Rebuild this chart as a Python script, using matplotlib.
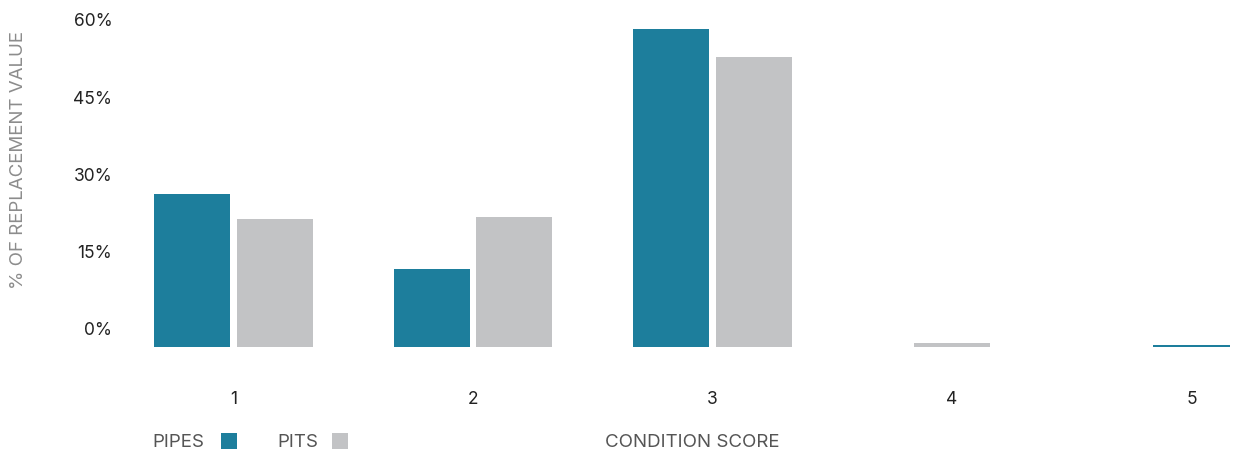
import matplotlib
matplotlib.use("Agg")
import matplotlib.pyplot as plt
import matplotlib.transforms as mtransforms
from matplotlib.patches import Rectangle
import numpy as np

# Share of replacement value by condition score
scores = ["1", "2", "3", "4", "5"]
pipes = [29.7, 15.1, 61.7, 0.0, 0.4]
pits = [24.8, 25.2, 56.3, 0.8, 0.0]
y_ticks = [0, 15, 30, 45, 60]
y_tick_labels = ["0%", "15%", "30%", "45%", "60%"]

PIPE_COLOR = "#1d7e9c"
PIT_COLOR = "#c2c3c5"

plt.rcParams["font.family"] = ["Inter", "DejaVu Sans"]

W, H, DPI = 1233, 452, 100
fig = plt.figure(figsize=(W / DPI, H / DPI), dpi=DPI)

# axes placement in pixels
unit = 239.5
center0 = 233.5
left_px = center0 - 0.5 * unit
right_px = W
bottom_px = 348.0
top_px = 13.0
ax = fig.add_axes([left_px / W, (H - bottom_px) / H,
                   (right_px - left_px) / W, (bottom_px - top_px) / H])

x = np.arange(len(scores), dtype=float)
bar_w = 0.318
offset = 0.172

# empty series are skipped, so a lone bar sits on its category centre
pipes_arr = np.array(pipes)
pits_arr = np.array(pits)
both = (pipes_arr > 0) & (pits_arr > 0)
pipe_x = np.where(both, x - offset, x)
pit_x = np.where(both, x + offset, x)
ax.bar(pipe_x[pipes_arr > 0], pipes_arr[pipes_arr > 0], width=bar_w,
       color=PIPE_COLOR, linewidth=0)
ax.bar(pit_x[pits_arr > 0], pits_arr[pits_arr > 0], width=bar_w,
       color=PIT_COLOR, linewidth=0)

ax.set_xlim(-0.5, (right_px - center0) / unit)
ax.set_ylim(0, 65)

for s in ax.spines.values():
    s.set_visible(False)

ax.set_xticks(x)
ax.set_xticklabels(scores)
ax.set_yticks(y_ticks)
ax.set_yticklabels(y_tick_labels)
ax.tick_params(axis="x", length=0, pad=31, labelsize=12.5, labelcolor="#222222")
ax.tick_params(axis="y", length=0, pad=1, labelsize=12.5, labelcolor="#222222")

# y labels sit slightly above their value
shift = mtransforms.ScaledTranslation(0, 17 / DPI, fig.dpi_scale_trans)
for lab in ax.get_yticklabels():
    lab.set_transform(lab.get_transform() + shift)
    lab.set_verticalalignment("center")

TITLE_SIZE = 13.5

# axis titles
fig.text(19 / W, 1 - 160 / H, "% OF REPLACEMENT VALUE", rotation=90,
         ha="center", va="center", fontsize=TITLE_SIZE, color="#8c8c8c")
fig.text(692 / W, 1 - 443 / H, "CONDITION SCORE", ha="center", va="center",
         fontsize=TITLE_SIZE, color="#555555")

# legend
def legend_item(text_x, box_x, label, color):
    fig.text(text_x / W, 1 - 442.5 / H, label, ha="left", va="center",
             fontsize=TITLE_SIZE, color="#555555")
    fig.add_artist(Rectangle((box_x / W, 1 - 450 / H), 16 / W, 16 / H,
                             transform=fig.transFigure, color=color, lw=0))

legend_item(152, 221, "PIPES", PIPE_COLOR)
legend_item(277, 332, "PITS", PIT_COLOR)

fig.savefig("out.png", dpi=DPI, facecolor="white")
